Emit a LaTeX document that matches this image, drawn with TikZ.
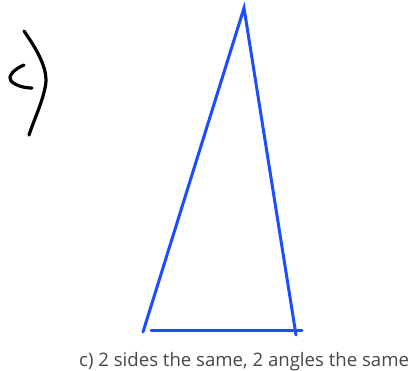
\documentclass[tikz,border=0pt]{standalone}
\usepackage{fontspec}
\setmainfont{Open Sans}
\usepackage{tikz}
\usetikzlibrary{positioning}

\begin{document}
\begin{tikzpicture}[x=1pt,y=-1pt]
	\definecolor{triedge}{RGB}{28,78,255}
	\colorlet{penink}{black}
	\colorlet{captext}{black!72}
	\tikzset{
		triline/.style={triedge,line width=3pt,line cap=round},
		penline/.style={penink,line width=3.2pt,line cap=round,line join=round}
	}
	\useasboundingbox (0,0) rectangle (412,371);
	
	% ---------- handwritten label ----------
	\draw[penline] (24,65) .. controls (14,69) and (7,77) .. (11,81)
		.. controls (16,86) and (25,88) .. (32,88);
	\draw[penline] (24,31) .. controls (40,54) and (49,72) .. (45,88)
		.. controls (42,103) and (34,120) .. (29,135);
	
	% ---------- triangle ----------
	\coordinate (apex) at (244,8);
	\coordinate (left) at (143,332);
	\coordinate (right) at (296,335);
	\coordinate (baseL) at (151,330);
	\coordinate (baseR) at (302,330);
	
	\draw[triline] (left) -- (apex) -- (right);
	\draw[triline] (baseL) -- (baseR);
	
	% ---------- caption ----------
	\node[captext,anchor=base west,inner sep=0pt,font=\fontsize{18.6}{21}\selectfont] (caption) at (79,366)
		{c) 2 sides the same, 2 angles the same};
\end{tikzpicture}
\end{document}
